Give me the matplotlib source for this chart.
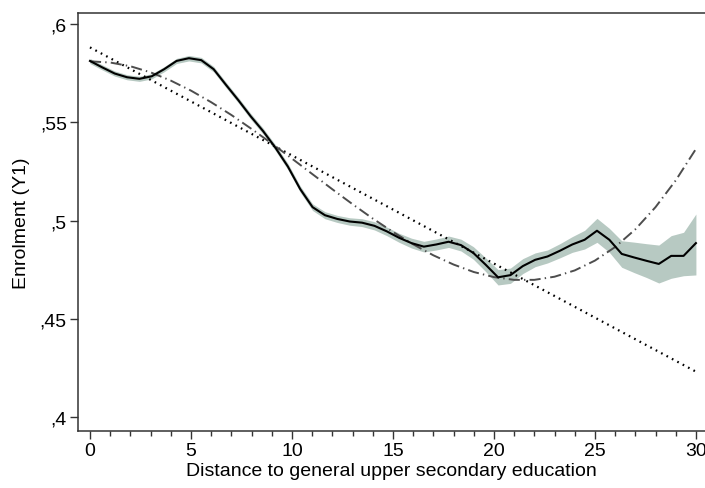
import matplotlib
matplotlib.use("Agg")
import matplotlib.pyplot as plt

plt.rcParams['font.family'] = ['Liberation Sans', 'DejaVu Sans']
plt.rcParams['lines.scale_dashes'] = False

# local polynomial fit (50 grid points) with confidence band
grid_x = [0.0, 0.612, 1.224, 1.837, 2.449, 3.061, 3.673, 4.286, 4.898, 5.510,
          6.122, 6.735, 7.347, 7.959, 8.571, 9.184, 9.796, 10.408, 11.020, 11.633,
          12.245, 12.857, 13.469, 14.082, 14.694, 15.306, 15.918, 16.531, 17.143, 17.755,
          18.367, 18.980, 19.592, 20.204, 20.816, 21.429, 22.041, 22.653, 23.265, 23.878,
          24.490, 25.102, 25.714, 26.327, 26.939, 27.551, 28.163, 28.776, 29.388, 30.0]
fit_y = [0.5812, 0.5779, 0.5748, 0.5729, 0.5721, 0.5734, 0.5770, 0.5812, 0.5826, 0.5816,
         0.5770, 0.5690, 0.5612, 0.5530, 0.5455, 0.5370, 0.5275, 0.5160, 0.5068, 0.5027,
         0.5008, 0.4995, 0.4989, 0.4973, 0.4945, 0.4912, 0.4885, 0.4867, 0.4878, 0.4892,
         0.4875, 0.4835, 0.4775, 0.4711, 0.4722, 0.4768, 0.4800, 0.4817, 0.4846, 0.4878,
         0.4902, 0.4948, 0.4902, 0.4830, 0.4812, 0.4795, 0.4779, 0.4820, 0.4820, 0.4885]
ci_low = [0.5799, 0.5766, 0.5735, 0.5716, 0.5708, 0.5721, 0.5757, 0.5799, 0.5812, 0.5802,
          0.5756, 0.5676, 0.5598, 0.5515, 0.5440, 0.5355, 0.5259, 0.5144, 0.5051, 0.5009,
          0.4990, 0.4976, 0.4969, 0.4952, 0.4923, 0.4889, 0.4860, 0.4840, 0.4850, 0.4863,
          0.4845, 0.4803, 0.4740, 0.4672, 0.4680, 0.4730, 0.4765, 0.4784, 0.4810, 0.4838,
          0.4855, 0.4889, 0.4838, 0.4762, 0.4735, 0.4710, 0.4682, 0.4706, 0.4719, 0.4723]
ci_high = [0.5825, 0.5792, 0.5761, 0.5742, 0.5734, 0.5747, 0.5783, 0.5825, 0.5840, 0.5830,
           0.5784, 0.5704, 0.5626, 0.5545, 0.5470, 0.5385, 0.5291, 0.5176, 0.5085, 0.5045,
           0.5026, 0.5014, 0.5009, 0.4994, 0.4967, 0.4935, 0.4910, 0.4894, 0.4906, 0.4921,
           0.4905, 0.4867, 0.4810, 0.4750, 0.4758, 0.4806, 0.4835, 0.4850, 0.4882, 0.4918,
           0.4950, 0.5011, 0.4960, 0.4897, 0.4890, 0.4882, 0.4875, 0.4923, 0.4940, 0.5033]

# linear fit (endpoints)
lin_x = [0, 30]
lin_y = [0.5881, 0.4231]

# cubic fit, read at whole distances
cub_x = list(range(0, 31))
cub_y = [0.5810, 0.5804, 0.5785, 0.5754, 0.5712, 0.5661, 0.5602, 0.5537, 0.5466, 0.5392,
         0.5315, 0.5237, 0.5159, 0.5083, 0.5010, 0.4942, 0.4879, 0.4823, 0.4776, 0.4738,
         0.4712, 0.4698, 0.4698, 0.4714, 0.4746, 0.4796, 0.4865, 0.4955, 0.5068, 0.5204,
         0.5364]

fig = plt.figure(figsize=(7.05, 4.89), dpi=100)
ax = fig.add_axes([0.1106, 0.1166, 0.8894, 0.8548])

ax.fill_between(grid_x, ci_low, ci_high, color='#b7c9c2', linewidth=0, zorder=1)
ax.plot(lin_x, lin_y, color='black', linewidth=1.6, dashes=(1.2, 3.2), zorder=2)
ax.plot(cub_x, cub_y, color='#4d4d4d', linewidth=1.4, dashes=(8, 3, 1, 3), zorder=2)
ax.plot(grid_x, fit_y, color='black', linewidth=1.5, zorder=3)

ax.set_xlim(-0.594, 30.45)
ax.set_ylim(0.3929, 0.6056)
ax.set_xticks([0, 5, 10, 15, 20, 25, 30])
ax.set_xticks(range(0, 31), minor=True)
ax.set_yticks([0.4, 0.45, 0.5, 0.55, 0.6])
ax.set_yticklabels([',4', ',45', ',5', ',55', ',6'])

ax.tick_params(axis='both', which='major', length=6, width=1, color='#333333',
               labelsize=14, pad=2)
ax.tick_params(axis='x', which='minor', length=3.5, width=1, color='#333333')
ax.tick_params(axis='y', which='minor', length=0)
for side in ['left', 'bottom', 'top']:
    ax.spines[side].set_color('#333333')
    ax.spines[side].set_linewidth(1.1)
ax.spines['right'].set_visible(False)

ax.set_xlabel('Distance to general upper secondary education', fontsize=14, labelpad=2)
ax.set_ylabel('Enrolment (Y1)', fontsize=14, labelpad=7)

fig.savefig('out.png', dpi=100)
